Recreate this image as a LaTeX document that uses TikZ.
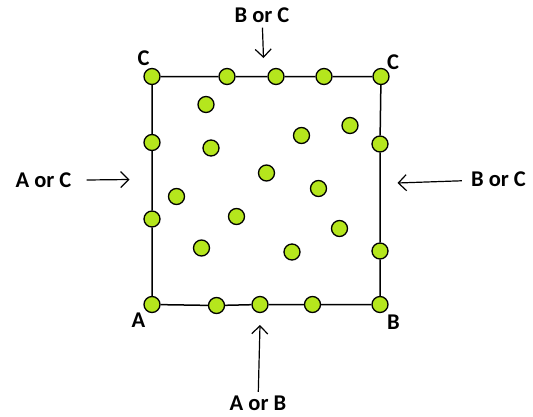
\documentclass[tikz,border=0pt]{standalone}
\usepackage{fontspec}
\setmainfont{Carlito}
\usepackage{xcolor}
\usetikzlibrary{arrows.meta,positioning}

\definecolor{dotgreen}{RGB}{181,230,29}

\tikzset{
  site/.style = {circle, draw, line width=1.3pt, fill=dotgreen,
                 inner sep=0pt, minimum size=16pt},
  lbl/.style  = {font=\bfseries\fontsize{22.5}{26}\selectfont, inner sep=1pt},
  hint/.style = {line width=1.2pt, -{Straight Barb[length=8pt,width=16pt]}},
}

\begin{document}
\begin{tikzpicture}[x=1pt, y=-1pt]
  \useasboundingbox (0,0) rectangle (533,416);

  % corners
  \node[site] (c1) at (152,76.5) {};
  \node[site] (c2) at (381,76.5) {};
  \node[site] (b)  at (380,304.5) {};
  \node[site] (a)  at (152,304.5) {};

  % sides
  \node[site] (t1) at (227,76.5) {};
  \node[site] (t2) at (276,76.5) {};
  \node[site] (t3) at (324,76.5) {};
  \node[site] (r1) at (380,144) {};
  \node[site] (r2) at (380,251) {};
  \node[site] (d1) at (312.5,304.5) {};
  \node[site] (d2) at (260,304.5) {};
  \node[site] (d3) at (216.5,305.5) {};
  \node[site] (l1) at (152,219) {};
  \node[site] (l2) at (152,142.5) {};

  % inside
  \node[site] (i1)  at (206,104.5) {};
  \node[site] (i2)  at (211,148) {};
  \node[site] (i3)  at (301.5,135.5) {};
  \node[site] (i4)  at (350,125.5) {};
  \node[site] (i5)  at (266.5,173) {};
  \node[site] (i6)  at (176.5,196.5) {};
  \node[site] (i7)  at (318.5,188.5) {};
  \node[site] (i8)  at (236.5,216.5) {};
  \node[site] (i9)  at (339.5,228.5) {};
  \node[site] (i10) at (201.5,248) {};
  \node[site] (i11) at (292,252) {};

  \draw[line width=1.5pt] (c1) -- (t1) -- (t2) -- (t3) -- (c2) -- (r1) -- (r2) -- (b)
        -- (d1) -- (d2) -- (d3) -- (a) -- (l1) -- (l2) -- (c1);

  % corner labels
  \node[lbl] (lc1) at (143.5,58) {C};
  \node[lbl] (lc2) at (393,62.5) {C};
  \node[lbl] (la)  at (138.5,320) {A};
  \node[lbl] (lb)  at (393.5,322.5) {B};

  % directions
  \node[lbl] (top)   at (262,15)    {B or C};
  \node[lbl] (left)  at (43.5,180.5) {A or C};
  \node[lbl] (right) at (498.5,179.5) {B or C};
  \node[lbl] (bot)   at (258,403.5) {A or B};

  \coordinate (ptop)   at (263.5,58);
  \coordinate (pleft)  at (129.5,179.5);
  \coordinate (pright) at (397.5,183);
  \coordinate (pbot)   at (260,325);

  \draw[hint, shorten <=4pt]  (top)   -- (ptop);
  \draw[hint, shorten <=14pt] (left)  -- (pleft);
  \draw[hint, shorten <=8pt]  (right) -- (pright);
  \draw[hint, shorten <=3pt]  (bot)   -- (pbot);
\end{tikzpicture}
\end{document}
